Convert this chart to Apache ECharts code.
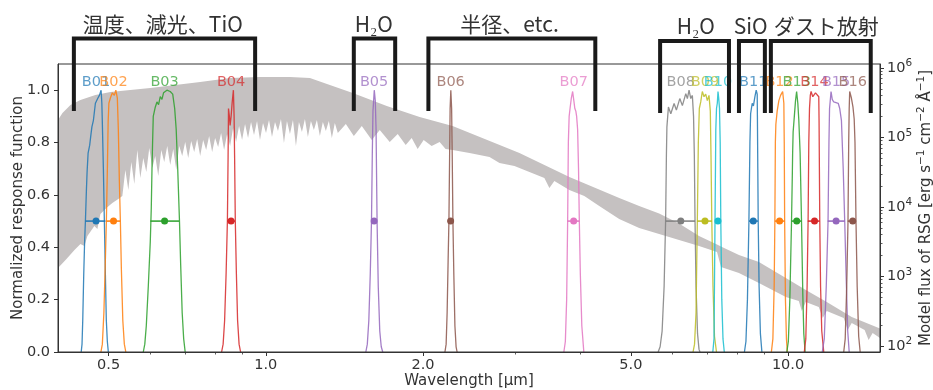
<!DOCTYPE html>
<html><head><meta charset="utf-8">
<script src="https://cdn.jsdelivr.net/npm/echarts@6/dist/echarts.min.js"></script>
<style>html,body{margin:0;padding:0;background:#fff}#c{width:933px;height:390px}</style>
</head><body><div id="c"></div>
<script>
// ---------------- data ----------------
const bandNames = ['B01','B02','B03','B04','B05','B06','B07','B08','B09','B10','B11','B12','B13','B14','B15','B16'];
const bandCenters = [0.473,0.511,0.640,0.858,1.612,2.259,3.886,6.232,6.934,7.341,8.579,9.634,10.39,11.24,12.36,13.30];
const bandLo = [0.4515,0.495,0.601,0.843,1.594,2.229,3.780,5.834,6.695,7.245,8.418,9.436,10.155,10.91,11.91,13.01];
const bandHi = [0.493,0.5265,0.6827,0.873,1.633,2.286,3.984,6.637,7.152,7.431,8.757,9.847,10.61,11.50,12.84,13.50];

const rB01 = [[0.4431,0],[0.4447,0.03],[0.4461,0.12],[0.4481,0.3],[0.4498,0.42],[0.4514,0.5],[0.4534,0.62],[0.4548,0.69],[0.4568,0.76],[0.46,0.79],[0.4625,0.83],[0.4645,0.86],[0.4676,0.885],[0.4717,0.95],[0.4765,0.968],[0.4801,0.98],[0.4837,1.0],[0.4853,0.95],[0.4863,0.88],[0.4886,0.7],[0.4907,0.5],[0.4929,0.3],[0.495,0.12],[0.4972,0.04],[0.4994,0]];
const rB02 = [[0.4833,0],[0.4864,0.03],[0.4897,0.15],[0.4929,0.35],[0.4951,0.5],[0.4973,0.7],[0.499,0.88],[0.5006,0.95],[0.5039,0.97],[0.5083,0.99],[0.5128,0.98],[0.5162,1.0],[0.5196,0.97],[0.5219,0.85],[0.5243,0.65],[0.5266,0.5],[0.5289,0.32],[0.5323,0.12],[0.5359,0.03],[0.5394,0]];
const rB03 = [[0.5826,0],[0.5865,0.03],[0.5904,0.1],[0.5956,0.25],[0.6008,0.42],[0.6035,0.55],[0.6054,0.7],[0.607,0.8],[0.6088,0.9],[0.6142,0.935],[0.6188,0.955],[0.6232,0.945],[0.6279,0.975],[0.6326,0.965],[0.637,0.99],[0.6466,1.0],[0.656,0.995],[0.6633,0.985],[0.6691,0.93],[0.6736,0.85],[0.6781,0.7],[0.6834,0.5],[0.6871,0.33],[0.6916,0.15],[0.6962,0.05],[0.7008,0]];
const rB04 = [[0.8229,0],[0.8284,0.03],[0.8339,0.12],[0.8394,0.3],[0.8442,0.5],[0.8468,0.75],[0.8483,0.93],[0.8516,0.9],[0.8543,0.865],[0.8581,0.9],[0.8619,0.95],[0.8668,1.0],[0.8695,0.9],[0.8714,0.75],[0.8741,0.5],[0.8783,0.3],[0.883,0.12],[0.8888,0.03],[0.8947,0]];
const rB05 = [[1.5542,0],[1.5645,0.03],[1.5749,0.12],[1.585,0.3],[1.5935,0.5],[1.5991,0.75],[1.604,0.92],[1.6132,1.0],[1.6203,0.96],[1.626,0.85],[1.6332,0.5],[1.6418,0.25],[1.6527,0.08],[1.6636,0.02],[1.6747,0]];
const rB06 = [[2.2029,0],[2.2146,0.03],[2.2243,0.15],[2.2341,0.35],[2.242,0.5],[2.2489,0.75],[2.2539,0.93],[2.2608,1.0],[2.2688,0.93],[2.2748,0.75],[2.2818,0.5],[2.2908,0.3],[2.3019,0.1],[2.3141,0.02],[2.3243,0]];
const rB07 = [[3.7214,0],[3.7461,0.04],[3.7676,0.2],[3.7842,0.5],[3.7959,0.8],[3.8093,0.9],[3.8244,0.93],[3.8463,0.97],[3.8684,0.995],[3.8889,0.96],[3.906,0.93],[3.9232,0.92],[3.9371,0.9],[3.9544,0.85],[3.9701,0.7],[3.9841,0.5],[4.0017,0.3],[4.0281,0.1],[4.0638,0]];
const rB08 = [[5.6395,0],[5.6893,0.02],[5.7395,0.08],[5.7902,0.25],[5.8285,0.5],[5.849,0.75],[5.862,0.86],[5.9012,0.936],[5.9636,0.91],[6.0508,0.949],[6.1121,0.924],[6.2044,0.968],[6.2758,0.941],[6.3708,0.987],[6.4155,0.968],[6.4632,1.0],[6.5122,0.968],[6.5582,0.98],[6.5924,0.9],[6.6157,0.75],[6.636,0.5],[6.6652,0.25],[6.7094,0.07],[6.7539,0.01],[6.7836,0]];
const rB09 = [[6.5782,0],[6.6216,0.03],[6.6652,0.15],[6.7036,0.5],[6.7331,0.8],[6.7629,0.93],[6.8046,0.955],[6.8527,0.995],[6.9041,0.975],[6.956,0.985],[7.0051,0.96],[7.0577,0.98],[7.0983,0.92],[7.12,0.75],[7.1451,0.5],[7.1829,0.25],[7.2305,0.06],[7.2944,0]];
const rB10 = [[7.1771,0],[7.2151,0.05],[7.2469,0.5],[7.2724,0.85],[7.2949,0.93],[7.3207,0.95],[7.3433,0.995],[7.366,0.97],[7.3919,0.93],[7.4147,0.8],[7.4344,0.5],[7.4671,0.2],[7.5066,0.05],[7.5496,0]];
const rB11 = [[8.251,0],[8.3056,0.04],[8.3606,0.2],[8.4159,0.5],[8.4532,0.8],[8.4791,0.91],[8.539,0.95],[8.5842,0.94],[8.6411,0.975],[8.6906,1.0],[8.7289,0.985],[8.7365,0.9],[8.752,0.7],[8.7673,0.5],[8.8021,0.25],[8.8528,0.07],[8.9112,0]];
const rB12 = [[9.2916,0],[9.3532,0.05],[9.4067,0.25],[9.4358,0.5],[9.4564,0.8],[9.4774,0.87],[9.5317,0.92],[9.6033,0.96],[9.6754,0.98],[9.7652,0.995],[9.8168,0.95],[9.8342,0.8],[9.8514,0.5],[9.8862,0.2],[9.9298,0.05],[9.9692,0]];
const rB13 = [[9.9474,0],[10.0131,0.04],[10.0795,0.2],[10.1552,0.5],[10.1911,0.68],[10.2045,0.76],[10.227,0.84],[10.2811,0.9],[10.3355,0.96],[10.3856,0.995],[10.4405,0.95],[10.4867,0.885],[10.5468,0.76],[10.6118,0.5],[10.6728,0.22],[10.7198,0.07],[10.7813,0]];
const rB14 = [[10.7434,0],[10.8146,0.05],[10.8766,0.25],[10.9245,0.5],[10.9583,0.8],[10.9922,0.93],[11.031,0.98],[11.0695,0.995],[11.1527,0.975],[11.286,0.99],[11.3758,0.985],[11.4512,0.975],[11.4662,0.88],[11.5016,0.5],[11.5422,0.25],[11.6032,0.08],[11.7058,0]];
const rB15 = [[11.6287,0],[11.7314,0.05],[11.8352,0.25],[11.9293,0.5],[11.9765,0.8],[12.0082,0.93],[12.0879,0.995],[12.1517,0.965],[12.2323,0.955],[12.3404,0.958],[12.4767,0.95],[12.5594,0.93],[12.6537,0.885],[12.7543,0.7],[12.8386,0.5],[12.9237,0.28],[13.0094,0.08],[13.0953,0]];
const rB16 = [[12.7823,0],[12.8671,0.05],[12.9519,0.25],[13.0265,0.5],[13.0664,0.8],[13.0953,0.93],[13.124,0.995],[13.2226,0.97],[13.3161,0.935],[13.3865,0.89],[13.4338,0.8],[13.4929,0.5],[13.5643,0.25],[13.6541,0.06],[13.7444,0]];
const responseCurves = [rB01,rB02,rB03,rB04,rB05,rB06,rB07,rB08,rB09,rB10,rB11,rB12,rB13,rB14,rB15,rB16];

// RSG model spectrum (upper / lower envelope of the dense line spectrum)
const specUpperWave = [0.4,0.408,0.4226,0.4416,0.4717,0.504,0.5502,0.6008,0.6707,0.7487,0.8543,0.9748,1.1124,1.2147,1.269,1.4672,1.7044,1.9704,2.2786,3.0597,3.813,4.7513,5.1874,5.6648,6.1848,6.7539,7.3112,7.4738,8.0538,8.7945,9.9038,10.815,11.862,13.242,15];
const specUpperFlux = [178600,225100,293500,346400,408800,451600,482600,515500,569300,629000,718000,742200,742200,718000,640000,436900,283900,197200,146400,59840,27020,13480,10340,8064,5789,3826,2887,2658,2038,1617,951.5,639.4,429.7,261.4,178];
const specLowerWave = [0.4,0.4152,0.4301,0.4416,0.4494,0.4554,0.4696,0.4759,0.4822,0.4951,0.5083,0.5219,
  0.5312,0.5383,0.5454,0.5527,0.56,0.5675,0.575,0.5826,0.5904,0.5982,0.6062,0.6142,0.6224,0.6307,0.639,0.6475,0.6561,0.6649,0.6737,0.6826,0.6917,0.7009,0.7102,0.7196,0.7292,0.7389,0.7487,0.7586,0.7687,0.7789,0.7893,0.7997,0.8104,0.8211,0.832,0.8431,0.8543,0.8656,0.8771,0.8888,0.9006,0.9125,0.9246,0.9369,0.9493,0.962,0.9747,0.9877,1.0009,1.0142,1.0276,1.0413,1.0551,1.0691,1.0833,1.0977,1.1123,1.1271,1.142,1.1572,1.1726,1.1882,1.2039,1.2199,1.2361,1.2526,1.2692,1.286,1.3031,1.3204,1.338,1.3557,1.3737,
  1.4231,1.4741,1.5268,1.5955,1.6527,1.7269,1.7889,1.853,1.9026,1.9533,2.0057,2.0775,2.1519,2.2094,2.2786,2.4554,2.6815,2.802,2.9931,3.1974,3.4153,3.4915,3.569,3.8125,4.0727,4.3501,4.75,5.1874,5.6645,6.1853,6.7539,7.311,7.4405,8.0537,8.7945,9.9038,10.486,10.626,10.814,11.451,11.654,11.861,12.782,13.01,13.241,14.018,14.267,14.52,15];
const specLowerFlux = [1325,1786,2406,2935,2746,3826,5329,4826,7931,9674,11420,13030,
  14390,34070,17560,44410,21420,66080,26140,50700,31890,70620,36400,54180,27930,66080,44410,75460,40210,68310,34070,75460,54180,86160,50700,89050,61840,95150,54180,92040,66080,105100,61840,98350,73000,116100,66080,112300,75460,137000,86160,146400,92040,156400,98350,167100,108600,172800,92040,161700,116100,178600,101700,167100,124000,184600,83340,172800,112300,178600,75460,167100,120000,184600,101700,172800,128200,178600,105100,167100,124000,172800,98350,161700,116100,
  156400,105100,146400,92040,128200,86160,112300,78000,98350,68310,92040,75460,86160,68310,66080,59840,52410,42970,38900,31890,26140,18770,23660,17560,14390,10340,6721,4987,4088,3351,2746,2251,1370,1123,806.4,507.0,444.1,318.9,429.7,364.0,252.9,318.9,252.9,169.9,214.2,169.9,122.0,153.9,130];

// ticks
const xTicks = [0.5,1,2,5,10];
const xMinorTicks = [0.6,0.7,0.8,0.9,3,4,6,7,8,9];
const yTicks = [0,0.2,0.4,0.6,0.8,1.0];
const fluxTicks = [100,1000,10000,100000,1000000];
const fluxMinorTicks = [200,300,400,500,600,700,800,900,2000,3000,4000,5000,6000,7000,8000,9000,20000,30000,40000,50000,60000,70000,80000,90000,200000,300000,400000,500000,600000,700000,800000,900000];

// group brackets above the plot
const groupNames = ['温度、減光、TiO','H₂O','半径、etc.','H₂O','SiO','ダスト放射'];
const groupFrom = [0.429,1.474,2.048,5.689,8.054,9.271];
const groupTo = [0.954,1.769,4.275,7.707,9.029,14.40];
const groupLabelAt = [0.635,1.610,2.928,6.657,8.479,11.835];

// ---------------- style ----------------
const tab = ['#1f77b4','#ff7f0e','#2ca02c','#d62728','#9467bd','#8c564b','#e377c2','#7f7f7f','#bcbd22','#17becf'];
const colorOf = i => tab[i % 10];
const FONT = 'DejaVu Sans';
const AX = '#333';
const TXT = '#333';
const labelLevel = 1.03;

const chart = echarts.init(document.getElementById('c'), null, {renderer:'canvas'});

const series = [];
series.push({
  type:'custom', xAxisIndex:0, yAxisIndex:1, z:1, silent:true, clip:true,
  data:[[specUpperWave[0], specUpperFlux[0]]], encode:{x:0,y:1},
  renderItem(params, api){
    const pts = [];
    for (let i=0;i<specUpperWave.length;i++) pts.push(api.coord([specUpperWave[i], specUpperFlux[i]]));
    for (let i=specLowerWave.length-1;i>=0;i--) pts.push(api.coord([specLowerWave[i], specLowerFlux[i]]));
    return {type:'polygon', shape:{points:pts}, style:{fill:'#c5c1c1'}};
  }
});
responseCurves.forEach((c,i)=>{
  series.push({type:'line', xAxisIndex:0, yAxisIndex:0, data:c, symbol:'none', silent:true, z:3,
    lineStyle:{color:colorOf(i), width:1.3, opacity:0.85}});
});
series.push({
  type:'custom', xAxisIndex:0, yAxisIndex:0, z:4, silent:true,
  data: bandNames.map((n,i)=>[bandLo[i], bandHi[i], 0.5]), encode:{x:[0,1], y:2},
  renderItem(params, api){
    const a = api.coord([api.value(0), api.value(2)]);
    const b = api.coord([api.value(1), api.value(2)]);
    return {type:'line', shape:{x1:a[0],y1:a[1],x2:b[0],y2:b[1]}, style:{stroke:colorOf(params.dataIndex), lineWidth:1.5}};
  }
});
series.push({
  type:'scatter', xAxisIndex:0, yAxisIndex:0, z:5, silent:true, symbolSize:7,
  data: bandCenters.map((c,i)=>({value:[c,0.5], itemStyle:{color:colorOf(i), opacity:1}}))
});
series.push({
  type:'scatter', xAxisIndex:0, yAxisIndex:0, z:6, silent:true, symbolSize:1,
  itemStyle:{color:'rgba(0,0,0,0)'},
  data: bandCenters.map((c,i)=>({value:[c,labelLevel], label:{show:true, position:'inside', formatter:bandNames[i],
    color:colorOf(i), opacity:0.72, fontSize:14.5, fontFamily:FONT, textBorderWidth:0, textBorderColor:'transparent'}}))
});

const nameStyle = {fontSize:15, fontFamily:FONT, color:TXT};
const option = {
  animation:false,
  backgroundColor:'#fff',
  grid:{left:58, right:53, top:64, bottom:38, show:true, borderColor:AX, borderWidth:1, containLabel:false, outerBoundsMode:'none', z:10},
  xAxis:[
    {type:'log', logBase:10, min:0.4, max:15, position:'bottom', z:10,
     axisLine:{show:true, onZero:false, lineStyle:{color:AX, width:1}},
     axisTick:{show:true, length:4, customValues:xTicks, lineStyle:{color:AX, width:1}},
     axisLabel:{show:true, customValues:xTicks, formatter:v=>Number(v).toFixed(1), fontSize:14.5, fontFamily:FONT, color:TXT, margin:6},
     splitLine:{show:false}, minorTick:{show:false}, minorSplitLine:{show:false},
     name:'Wavelength [μm]', nameLocation:'middle', nameGap:22, nameMoveOverlap:false, nameTextStyle:nameStyle},
    {type:'log', logBase:10, min:0.4, max:15, position:'bottom', z:10,
     axisLine:{show:false}, axisTick:{show:true, length:2.5, customValues:xMinorTicks, lineStyle:{color:AX, width:0.8}},
     axisLabel:{show:false}, splitLine:{show:false}}
  ],
  yAxis:[
    {type:'value', min:0, max:1.1, position:'left', z:10,
     axisLine:{show:true, onZero:false, lineStyle:{color:AX, width:1}},
     axisTick:{show:true, length:4, customValues:yTicks, lineStyle:{color:AX, width:1}},
     axisLabel:{show:true, customValues:yTicks, formatter:v=>Number(v).toFixed(1), fontSize:14.5, fontFamily:FONT, color:TXT, margin:8},
     splitLine:{show:false},
     name:'Normalized response function', nameLocation:'middle', nameGap:32, nameRotate:90, nameMoveOverlap:false, nameTextStyle:nameStyle},
    {type:'log', logBase:10, min:82, max:1.14e6, position:'right', z:10,
     axisLine:{show:true, onZero:false, lineStyle:{color:AX, width:1}},
     axisTick:{show:true, length:4, customValues:fluxTicks, lineStyle:{color:AX, width:1}},
     axisLabel:{show:true, customValues:fluxTicks, margin:7,
       formatter:v=>'{b|10}{s|'+Math.round(Math.log10(v))+'}',
       rich:{b:{fontSize:14.5, fontFamily:FONT, color:TXT, lineHeight:20},
             s:{fontSize:10.5, fontFamily:FONT, color:TXT, verticalAlign:'top', lineHeight:12}}},
     splitLine:{show:false},
     name:'Model flux of RSG [erg s{s|−1} cm{s|−2} Å{s|−1}]', nameLocation:'middle', nameGap:36, nameRotate:90, nameMoveOverlap:false,
     nameTextStyle:{fontSize:15, fontFamily:FONT, color:TXT, lineHeight:20,
       rich:{s:{fontSize:10.5, fontFamily:FONT, color:TXT, verticalAlign:'top', lineHeight:12}}}},
    {type:'log', logBase:10, min:82, max:1.14e6, position:'right', z:10,
     axisLine:{show:false}, axisTick:{show:true, length:2.5, customValues:fluxMinorTicks, lineStyle:{color:AX, width:0.8}},
     axisLabel:{show:false}, splitLine:{show:false}}
  ],
  series
};
chart.setOption(option);

// brackets & group labels (positioned through the x axis scale)
const gfx = [];
groupFrom.forEach((a,i)=>{
  const xa = chart.convertToPixel({xAxisIndex:0}, a);
  const xb = chart.convertToPixel({xAxisIndex:0}, groupTo[i]);
  const xl = chart.convertToPixel({xAxisIndex:0}, groupLabelAt[i]);
  const right = i >= 3;
  const yTop = right ? 41 : 38.5, yBot = right ? 113 : 111, yLab = right ? 26.5 : 24;
  gfx.push({type:'polyline', z:100, silent:true,
    shape:{points:[[xa,yBot],[xa,yTop],[xb,yTop],[xb,yBot]]},
    style:{stroke:'#1a1a1a', lineWidth:4, fill:null, lineJoin:'miter', lineCap:'butt'}});
  gfx.push({type:'text', z:100, silent:true, x:xl, y:yLab,
    style:{text:groupNames[i], fontSize:21, fontFamily:'Noto Sans CJK JP', fill:'#333',
      align:'center', verticalAlign:'middle', textAlign:'center', textVerticalAlign:'middle'}});
});
chart.setOption({graphic:{elements:gfx}});
</script>
</body></html>
